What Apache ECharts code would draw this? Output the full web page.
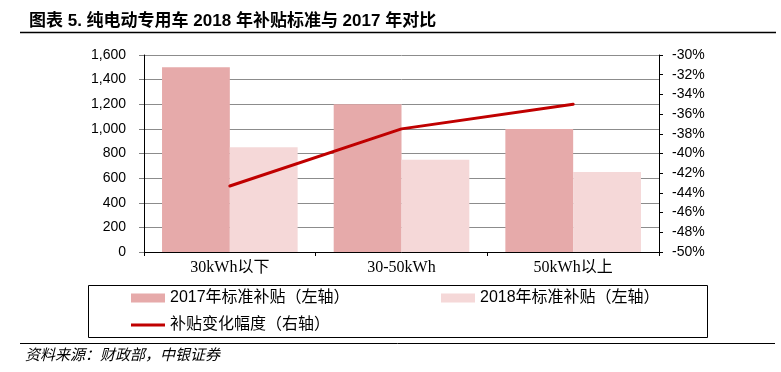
<!DOCTYPE html>
<html>
<head>
<meta charset="utf-8">
<script src="https://cdn.jsdelivr.net/npm/echarts@6/dist/echarts.min.js"></script>
<style>html,body{margin:0;padding:0;background:#fff}#c{width:781px;height:372px}</style>
</head>
<body>
<div id="c"></div>
<script>
var categories = ['30kWh以下', '30-50kWh', '50kWh以上'];
var subsidy2017 = [1500, 1200, 1000];
var subsidy2018 = [850, 750, 650];
var changePct = [-43.3, -37.5, -35.0];
var leftTicks = {min: 0, max: 1600, interval: 200};
var rightTicks = {min: -50, max: -30, interval: 2};

var name2017 = '2017年标准补贴（左轴）';
var name2018 = '2018年标准补贴（左轴）';
var nameChg = '补贴变化幅度（右轴）';

var sans = '"Liberation Sans", Arial, "Noto Sans CJK SC", sans-serif';
var chart = echarts.init(document.getElementById('c'), null, {renderer: 'canvas'});
var legendText = {fontSize: 16, color: '#000', fontFamily: sans};
chart.setOption({
  animation: false,
  title: {
    text: '图表 5. 纯电动专用车 2018 年补贴标准与 2017 年对比',
    left: 24, top: 8,
    textStyle: {fontSize: 17, fontWeight: 'bold', color: '#000', fontFamily: sans}
  },
  grid: {left: 144, right: 122, top: 55, bottom: 120},
  legend: [
    {data: [{name: name2017, icon: 'rect'}], left: 131, top: 290, padding: 0, itemWidth: 34, itemHeight: 9, textStyle: legendText},
    {data: [{name: name2018, icon: 'rect'}], left: 441, top: 290, padding: 0, itemWidth: 34, itemHeight: 9, textStyle: legendText},
    {data: [{name: nameChg, icon: 'rect'}], left: 131, top: 317, padding: 0, itemWidth: 34, itemHeight: 3, textStyle: legendText}
  ],
  xAxis: {
    type: 'category', data: categories,
    axisLine: {lineStyle: {color: '#000', width: 1}},
    axisTick: {show: true, length: 4, lineStyle: {color: '#000'}},
    axisLabel: {fontSize: 16, color: '#000', margin: 8, fontFamily: '"Liberation Serif", "Times New Roman", "Noto Sans CJK SC", serif'}
  },
  yAxis: [
    {
      type: 'value', min: leftTicks.min, max: leftTicks.max, interval: leftTicks.interval,
      axisLine: {show: true, lineStyle: {color: '#000'}},
      axisTick: {show: true, length: 5, lineStyle: {color: '#808080'}},
      splitLine: {show: true, lineStyle: {color: '#8c8c8c', width: 1}},
      axisLabel: {fontSize: 14, color: '#000', margin: 18, fontFamily: sans,
        formatter: function (v) { return v.toLocaleString('en-US'); }}
    },
    {
      type: 'value', min: rightTicks.min, max: rightTicks.max, interval: rightTicks.interval,
      position: 'right',
      axisLine: {show: true, lineStyle: {color: '#000'}},
      axisTick: {show: true, length: 4, lineStyle: {color: '#000'}},
      splitLine: {show: false},
      axisLabel: {fontSize: 14, color: '#000', margin: 13, fontFamily: sans,
        formatter: function (v) { return Math.round(v) + '%'; }}
    }
  ],
  series: [
    {name: name2017, type: 'bar', data: subsidy2017, yAxisIndex: 0, barGap: '0%', barCategoryGap: '21%',
      itemStyle: {color: '#E6AAAA'}},
    {name: name2018, type: 'bar', data: subsidy2018, yAxisIndex: 0,
      itemStyle: {color: '#F5D8D8'}},
    {name: nameChg, type: 'line', data: changePct, yAxisIndex: 1, showSymbol: false, symbol: 'none',
      lineStyle: {color: '#C00000', width: 3, cap: 'round'}, itemStyle: {color: '#C00000'}}
  ],
  graphic: [
    {type: 'line', shape: {x1: 20, y1: 32.5, x2: 776, y2: 32.5}, style: {stroke: '#000', lineWidth: 1.5}},
    {type: 'rect', shape: {x: 88.5, y: 285.5, width: 619, height: 52}, style: {fill: 'none', stroke: '#000', lineWidth: 1}},
    {type: 'line', shape: {x1: 20, y1: 343.5, x2: 775, y2: 343.5}, style: {stroke: '#000', lineWidth: 1}},
    {type: 'text', left: 25, top: 348, style: {text: '资料来源：财政部，中银证券', fontSize: 15, fontStyle: 'italic', fill: '#000', fontFamily: sans}}
  ]
});
</script>
</body>
</html>
